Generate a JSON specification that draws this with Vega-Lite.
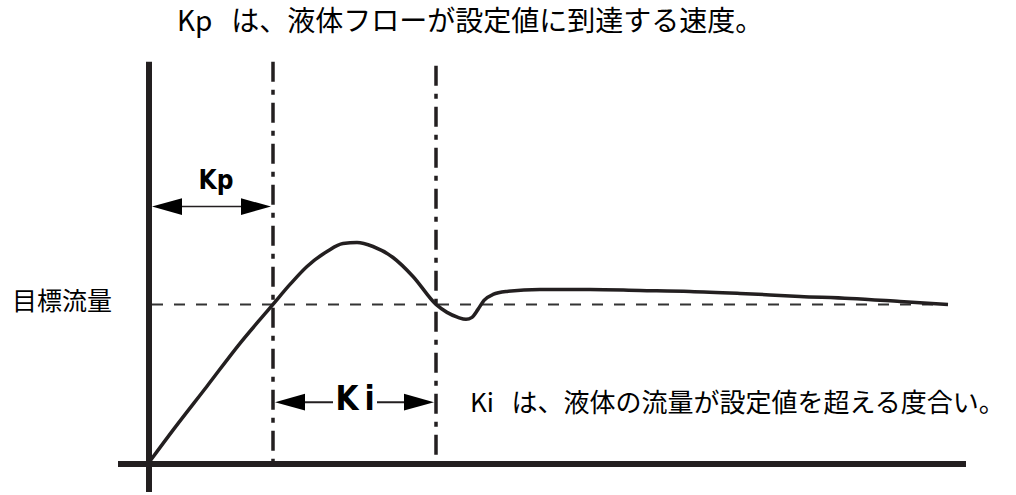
{
  "$schema": "https://vega.github.io/schema/vega-lite/v6.json",
  "width": 1016,
  "height": 495,
  "autosize": {"type": "fit", "contains": "padding"},
  "padding": 0,
  "background": "white",
  "config": {"view": {"stroke": null}},
  "datasets": {
    "axes": [
      {"x": 118, "x2": 966, "y": 465, "y2": 465},
      {"x": 149, "x2": 149, "y": 62, "y2": 493}
    ],
    "target": [
      {"x": 152, "x2": 948, "y": 305, "y2": 305}
    ],
    "verticals": [
      {"x": 273, "x2": 273, "y": 62, "y2": 463},
      {"x": 436, "x2": 436, "y": 66, "y2": 463}
    ],
    "curve": [
      {"x": 150, "y": 462},
      {"x": 173, "y": 431},
      {"x": 207, "y": 387},
      {"x": 240, "y": 344},
      {"x": 273, "y": 305},
      {"x": 290, "y": 285},
      {"x": 307, "y": 267},
      {"x": 327, "y": 252},
      {"x": 343, "y": 244},
      {"x": 357, "y": 243},
      {"x": 373, "y": 247},
      {"x": 393, "y": 258},
      {"x": 413, "y": 277},
      {"x": 436, "y": 305},
      {"x": 447, "y": 313},
      {"x": 458, "y": 318},
      {"x": 466, "y": 320},
      {"x": 472, "y": 318},
      {"x": 478, "y": 310},
      {"x": 484, "y": 301},
      {"x": 493, "y": 295},
      {"x": 507, "y": 292},
      {"x": 540, "y": 290},
      {"x": 590, "y": 290},
      {"x": 640, "y": 291},
      {"x": 690, "y": 292},
      {"x": 740, "y": 294},
      {"x": 800, "y": 297},
      {"x": 850, "y": 299},
      {"x": 900, "y": 302},
      {"x": 948, "y": 305}
    ],
    "kpShaft": [{"x": 170, "x2": 250, "y": 207, "y2": 207}],
    "kiShaft": [
      {"x": 300, "x2": 333, "y": 403, "y2": 403},
      {"x": 377, "x2": 410, "y": 403, "y2": 403}
    ],
    "headsRight": [{"x": 271, "y": 207}, {"x": 434, "y": 403}],
    "headsLeft": [{"x": 152, "y": 207}, {"x": 275, "y": 403}],
    "kpLabel": [{"x": 216, "y": 181, "label": "Kp"}],
    "kiLabel": [{"x": 355, "y": 401, "label": "K\u2009i"}],
    "title": [{"x": 177, "y": 23, "label": "Kp\u00a0\u00a0\u00a0は、液体フローが設定値に到達する速度。"}],
    "targetLabel": [{"x": 12, "y": 303, "label": "目標流量"}],
    "kiNote": [{"x": 470, "y": 405, "label": "Ki\u00a0\u00a0\u00a0は、液体の流量が設定値を超える度合い。"}]
  },
  "encoding": {
    "x": {"field": "x", "type": "quantitative", "scale": {"domain": [0, 1016], "nice": false, "zero": false}, "axis": null},
    "y": {"field": "y", "type": "quantitative", "scale": {"domain": [0, 495], "nice": false, "zero": false, "reverse": true}, "axis": null}
  },
  "layer": [
    {
      "data": {"name": "target"},
      "mark": {"type": "rule", "color": "#333333", "strokeWidth": 2, "strokeDash": [11, 11]},
      "encoding": {"x2": {"field": "x2"}, "y2": {"field": "y2"}}
    },
    {
      "data": {"name": "verticals"},
      "mark": {"type": "rule", "color": "#231f20", "strokeWidth": 3.5, "strokeDash": [20, 8, 5, 8]},
      "encoding": {"x2": {"field": "x2"}, "y2": {"field": "y2"}}
    },
    {
      "data": {"name": "axes"},
      "mark": {"type": "rule", "color": "#231f20", "strokeWidth": 6},
      "encoding": {"x2": {"field": "x2"}, "y2": {"field": "y2"}}
    },
    {
      "data": {"name": "curve"},
      "mark": {"type": "line", "color": "#231f20", "strokeWidth": 3.5, "interpolate": "monotone"},
      "encoding": {"order": {"field": "x", "type": "quantitative"}}
    },
    {
      "data": {"name": "kpShaft"},
      "mark": {"type": "rule", "color": "#231f20", "strokeWidth": 1.5},
      "encoding": {"x2": {"field": "x2"}, "y2": {"field": "y2"}}
    },
    {
      "data": {"name": "kiShaft"},
      "mark": {"type": "rule", "color": "#231f20", "strokeWidth": 2},
      "encoding": {"x2": {"field": "x2"}, "y2": {"field": "y2"}}
    },
    {
      "data": {"name": "headsRight"},
      "mark": {"type": "point", "shape": "M0,0 L-2,-0.56 L-2,0.56 Z", "size": 900, "filled": true, "color": "#000000", "opacity": 1, "strokeWidth": 0}
    },
    {
      "data": {"name": "headsLeft"},
      "mark": {"type": "point", "shape": "M0,0 L2,-0.56 L2,0.56 Z", "size": 900, "filled": true, "color": "#000000", "opacity": 1, "strokeWidth": 0}
    },
    {
      "data": {"name": "kpLabel"},
      "mark": {"type": "text", "font": "DejaVu Sans Condensed, sans-serif", "fontWeight": "bold", "fontSize": 26, "align": "center", "baseline": "middle", "color": "#000000"},
      "encoding": {"text": {"field": "label"}}
    },
    {
      "data": {"name": "kiLabel"},
      "mark": {"type": "text", "font": "DejaVu Sans Condensed, sans-serif", "fontWeight": "bold", "fontSize": 33, "align": "center", "baseline": "middle", "color": "#000000"},
      "encoding": {"text": {"field": "label"}}
    },
    {
      "data": {"name": "title"},
      "mark": {"type": "text", "font": "Noto Sans CJK JP", "fontSize": 28, "align": "left", "baseline": "middle", "color": "#000000"},
      "encoding": {"text": {"field": "label"}}
    },
    {
      "data": {"name": "targetLabel"},
      "mark": {"type": "text", "font": "Noto Sans CJK JP", "fontSize": 25, "align": "left", "baseline": "middle", "color": "#000000"},
      "encoding": {"text": {"field": "label"}}
    },
    {
      "data": {"name": "kiNote"},
      "mark": {"type": "text", "font": "Noto Sans CJK JP", "fontSize": 26, "align": "left", "baseline": "middle", "color": "#000000"},
      "encoding": {"text": {"field": "label"}}
    }
  ]
}
